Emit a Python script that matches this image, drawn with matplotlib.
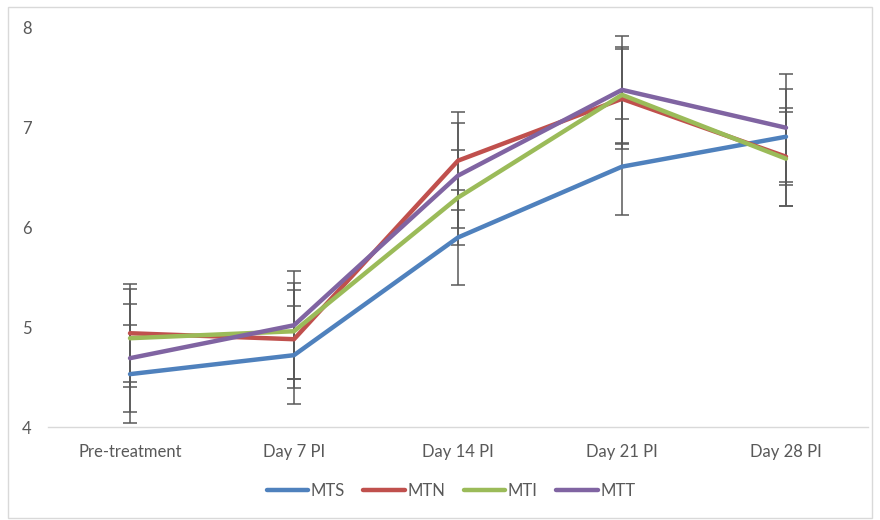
import matplotlib
matplotlib.use("Agg")
import matplotlib.pyplot as plt
from matplotlib.patches import Rectangle

plt.rcParams['font.family'] = ['Lato', 'DejaVu Sans']

categories = ["Pre-treatment", "Day 7 PI", "Day 14 PI", "Day 21 PI", "Day 28 PI"]
series_names = ["MTS", "MTN", "MTI", "MTT"]

mts = [4.53, 4.72, 5.90, 6.61, 6.91]
mtn = [4.94, 4.88, 6.67, 7.29, 6.71]
mti = [4.89, 4.96, 6.30, 7.33, 6.69]
mtt = [4.69, 5.02, 6.52, 7.38, 7.00]

mts_err = [0.49, 0.49, 0.48, 0.48, 0.48]
mtn_err = [0.49, 0.49, 0.49, 0.50, 0.49]
mti_err = [0.49, 0.48, 0.48, 0.48, 0.47]
mtt_err = [0.54, 0.54, 0.53, 0.54, 0.54]

y_ticks = [4, 5, 6, 7, 8]

colors = ["#4F81BD", "#C0504D", "#9BBB59", "#8064A2"]
values = [mts, mtn, mti, mtt]
errors = [mts_err, mtn_err, mti_err, mtt_err]

fig = plt.figure(figsize=(8.8, 5.2), dpi=100)
fig.patch.set_facecolor("white")
fig.patches.append(Rectangle((8 / 880, 2 / 520), 864 / 880, 511 / 520,
                             transform=fig.transFigure, fill=False,
                             edgecolor="#d9d9d9", linewidth=1.0))

ax = fig.add_axes([48 / 880, 93 / 520, 820 / 880, 399 / 520])
x = list(range(len(categories)))

for vals, errs in zip(values, errors):
    ax.errorbar(x, vals, yerr=errs, fmt="none", ecolor="#595959",
                elinewidth=1.1, capsize=5, capthick=1.1, zorder=2)

handles = []
for name, vals, col in zip(series_names, values, colors):
    h, = ax.plot(x, vals, color=col, linewidth=3.2, label=name,
                 solid_capstyle="round", solid_joinstyle="round", zorder=3)
    handles.append(h)

ax.set_xlim(-0.5, len(categories) - 0.5)
ax.set_ylim(4, 8)
ax.set_yticks(y_ticks)
ax.set_xticks(x)
ax.set_xticklabels(categories)

for side in ["top", "right", "left"]:
    ax.spines[side].set_visible(False)
ax.spines["bottom"].set_color("#d9d9d9")
ax.spines["bottom"].set_linewidth(1.0)

ax.tick_params(axis="x", length=0, pad=12, labelsize=12, labelcolor="#595959")
ax.tick_params(axis="y", length=0, pad=0, labelsize=12, labelcolor="#595959")
for lbl in ax.get_yticklabels():
    lbl.set_horizontalalignment("left")
    lbl.set_x(-26 / 820)

fig.legend(handles=handles, labels=series_names, loc="center",
           bbox_to_anchor=(451 / 880, 1 - 491 / 520), ncol=4, frameon=False,
           fontsize=12, labelcolor="#595959", handlelength=2.5,
           handletextpad=0.15, columnspacing=1.1)

fig.savefig("out.png", dpi=100)
